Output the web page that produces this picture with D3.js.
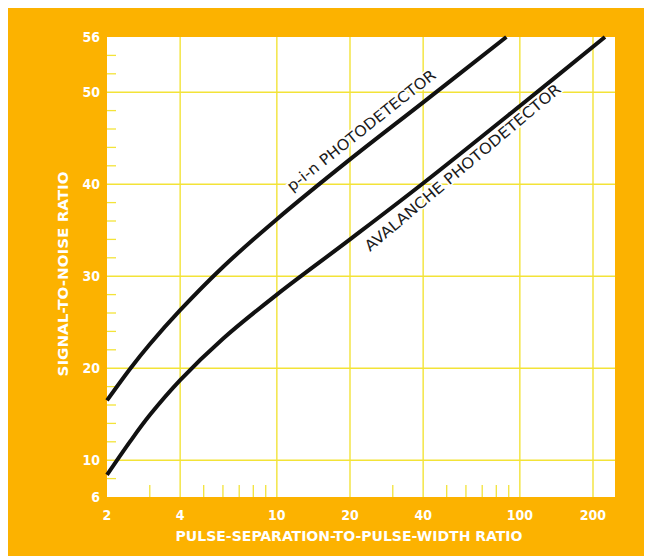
<!DOCTYPE html>
<html><head><meta charset="utf-8">
<script src="https://cdn.jsdelivr.net/npm/d3@7"></script>
<style>html,body{margin:0;padding:0;background:#fff;}svg{display:block;}</style>
</head><body>
<script>
// ---- data ----
const xTicks = [2, 4, 10, 20, 40, 100, 200];
const xMinorTicks = [3, 5, 6, 7, 8, 9, 30, 50, 60, 70, 80, 90];
const yTicks = [6, 10, 20, 30, 40, 50, 56];
const yGrid = [10, 20, 30, 40, 50];
const yMinorTicks = [8, 12, 14, 16, 18, 22, 24, 26, 28, 32, 34, 36, 38, 42, 44, 46, 48, 52, 54];
const pinX = [2, 2.5, 3, 4, 6, 10, 20, 40, 88];
const pinY = [16.5, 20.0, 22.6, 26.3, 31.0, 36.2, 42.7, 48.9, 56];
const avaX = [2, 2.5, 3, 4, 6, 10, 20, 40, 100, 224];
const avaY = [8.4, 12.1, 14.9, 18.7, 23.2, 28.0, 34.0, 40.1, 48.5, 56];
const xTitle = "PULSE-SEPARATION-TO-PULSE-WIDTH RATIO";
const yTitle = "SIGNAL-TO-NOISE RATIO";
const pinLabel = "p-i-n PHOTODETECTOR";
const avaLabel = "AVALANCHE PHOTODETECTOR";

const W = 646, H = 556;
const L = 107, R = 615, T = 37, B = 497;
const orange = "#FCB200", grid = "#F3E338";
const font = "'DejaVu Sans Condensed','Liberation Sans Narrow','Roboto Condensed',sans-serif";

const svg = d3.select("body").append("svg").attr("width", W).attr("height", H);
svg.append("rect").attr("x", 8).attr("y", 8).attr("width", 636).attr("height", 548).attr("fill", orange);

const x = d3.scaleLog().domain([2, 2 * Math.pow(10, (R - L) / 243)]).range([L, R]);
const y = d3.scaleLinear().domain([6, 56]).range([B, T]);

svg.append("rect").attr("x", L).attr("y", T).attr("width", R - L).attr("height", B - T).attr("fill", "#fff");

const g = svg.append("g");
g.selectAll(".hg").data(yGrid).join("line")
  .attr("x1", L).attr("x2", R).attr("y1", d => y(d)).attr("y2", d => y(d))
  .attr("stroke", grid).attr("stroke-width", 1.4);
g.selectAll(".vg").data(xTicks.slice(1)).join("line")
  .attr("x1", d => x(d)).attr("x2", d => x(d)).attr("y1", T).attr("y2", B)
  .attr("stroke", grid).attr("stroke-width", 1.4);
g.selectAll(".ym").data(yMinorTicks).join("line")
  .attr("x1", L).attr("x2", L + 9).attr("y1", d => y(d)).attr("y2", d => y(d))
  .attr("stroke", grid).attr("stroke-width", 1.3);
g.selectAll(".xm").data(xMinorTicks).join("line")
  .attr("x1", d => x(d)).attr("x2", d => x(d)).attr("y1", B).attr("y2", B - 12)
  .attr("stroke", grid).attr("stroke-width", 1.3);

// curves
const line = d3.line().x(d => x(d[0])).y(d => y(d[1])).curve(d3.curveCatmullRom.alpha(0.5));
const pin = pinX.map((v, i) => [v, pinY[i]]);
const ava = avaX.map((v, i) => [v, avaY[i]]);
[pin, ava].forEach(s => {
  svg.append("path").datum(s).attr("d", line).attr("fill", "none")
    .attr("stroke", "#111").attr("stroke-width", 4).attr("stroke-linecap", "butt");
});

// curve labels
function curveLabel(txt, x0, y0, x1, y1) {
  const ang = Math.atan2(y1 - y0, x1 - x0) * 180 / Math.PI;
  const len = Math.hypot(x1 - x0, y1 - y0);
  svg.append("text").attr("transform", `translate(${x0},${y0}) rotate(${ang})`)
    .attr("font-family", font).attr("font-size", 15).attr("fill", "#1a1a1a")
    .attr("stroke", "#fff").attr("stroke-width", 3).attr("paint-order", "stroke")
    .attr("textLength", len).attr("lengthAdjust", "spacingAndGlyphs")
    .text(txt);
}
curveLabel(pinLabel, 292, 192, 437, 77);
curveLabel(avaLabel, 370, 252, 562, 91);

// axis labels
svg.selectAll(".yl").data(yTicks).join("text")
  .attr("x", 100).attr("y", d => y(d)).attr("dy", "0.36em").attr("text-anchor", "end")
  .attr("font-family", font).attr("font-weight", "bold").attr("font-size", 14).attr("fill", "#fff")
  .text(d => d);
svg.selectAll(".xl").data(xTicks).join("text")
  .attr("x", d => x(d)).attr("y", 520).attr("text-anchor", "middle")
  .attr("font-family", font).attr("font-weight", "bold").attr("font-size", 14).attr("fill", "#fff")
  .text(d => d);
svg.append("text").attr("x", 349).attr("y", 541).attr("text-anchor", "middle")
  .attr("font-family", font).attr("font-weight", "bold").attr("font-size", 14).attr("fill", "#fff")
  .attr("textLength", 347).attr("lengthAdjust", "spacingAndGlyphs").text(xTitle);
svg.append("text").attr("transform", "translate(68,274) rotate(-90)").attr("text-anchor", "middle")
  .attr("font-family", font).attr("font-weight", "bold").attr("font-size", 14).attr("fill", "#fff")
  .attr("textLength", 205).attr("lengthAdjust", "spacingAndGlyphs").text(yTitle);
</script>
</body></html>
